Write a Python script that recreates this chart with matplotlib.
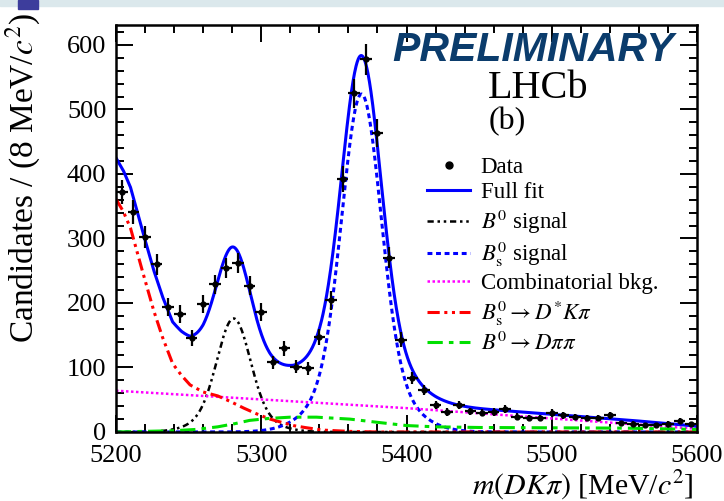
import numpy as np
import matplotlib
matplotlib.use("Agg")
import matplotlib.pyplot as plt
from matplotlib.lines import Line2D
from matplotlib.patches import Rectangle

plt.rcParams['font.family'] = ['Liberation Serif', 'DejaVu Serif']
plt.rcParams['mathtext.fontset'] = 'stix'

# data: 8 MeV bins from 5200 to 5600
bin_lo = 5200
bin_w = 8
counts = [372, 341, 302, 260, 194, 183, 146, 198, 229, 254,
          262, 227, 186, 108, 130, 101, 99, 147, 204, 392,
          525, 578, 463, 270, 143, 84, 65, 42, 31, 42,
          32, 30, 31, 36, 24, 22, 22, 30, 26, 23,
          22, 22, 26, 14, 13, 11, 11, 13, 17, 12]

# signal shapes (mean, height, core width, tail width, core fraction)
b0_mean, b0_height, b0_s1, b0_s2, b0_f = 5281.0, 176.0, 11.0, 20.0, 0.8
bs_mean, bs_height, bs_s1, bs_s2, bs_f = 5369.0, 524.0, 13.0, 25.0, 0.8

# background curves
comb_m = [5200, 5400, 5600]
comb_v = [64, 37, 5]

dstar_m = [5200, 5205, 5210, 5218, 5226, 5232, 5239, 5245, 5251, 5260, 5270,
           5279, 5288, 5297, 5306, 5314, 5322, 5330, 5342, 5360, 5380, 5600]
dstar_v = [361, 342, 316, 251, 188, 147, 106, 88, 73, 62, 56,
           47, 37, 28, 20, 15, 10, 7, 3, 1, 0, 0]

dpipi_m = [5200, 5240, 5255, 5270, 5282, 5292, 5305, 5320, 5338, 5361,
           5380, 5400, 5420, 5450, 5500, 5550, 5600]
dpipi_v = [0, 2, 4, 8, 13, 18, 21, 23, 23, 20,
           15, 10, 8, 7, 6.5, 6, 4]


def peak(m, mean, h, s1, s2, f):
    d = m - mean
    return h * (f * np.exp(-d**2 / (2 * s1**2)) + (1 - f) * np.exp(-d**2 / (2 * s2**2)))


counts = np.array(counts, dtype=float)
centers = bin_lo + bin_w / 2 + bin_w * np.arange(len(counts))

m = np.linspace(5200, 5600, 1601)
b0 = peak(m, b0_mean, b0_height, b0_s1, b0_s2, b0_f)
bs = peak(m, bs_mean, bs_height, bs_s1, bs_s2, bs_f)
full = (b0 + bs + np.interp(m, comb_m, comb_v) + np.interp(m, dstar_m, dstar_v)
        + np.interp(m, dpipi_m, dpipi_v))

fig = plt.figure(figsize=(7.24, 5.01), dpi=100)
ax = fig.add_axes([116 / 724, 1 - 432 / 501, 581 / 724, 407 / 501])

# slide header remnants
fig.patches.append(Rectangle((0, 1 - 6 / 501), 1, 6 / 501, transform=fig.transFigure,
                             color='#dbe8ec', zorder=0))
fig.patches.append(Rectangle((18 / 724, 1 - 9 / 501), 20 / 724, 9 / 501,
                             transform=fig.transFigure, color='#3d3d9c', zorder=1))

ax.plot(m, b0, color='black', lw=1.8, ls=(0, (2.5, 1.5, 1, 1.5, 1, 1.5)))
ax.plot(m, bs, color='#0000ff', lw=2.2, ls=(0, (1.6, 1.2)))
ax.plot(comb_m, comb_v, color='#ff00ff', lw=1.8, ls=(0, (1, 1)))
ax.plot(dstar_m, dstar_v, color='#ff0000', lw=2.2, ls=(0, (4, 1.5, 1, 1.5, 1, 1.5)))
ax.plot(dpipi_m, dpipi_v, color='#00e000', lw=2.2, ls=(0, (5, 2, 1.5, 2)))
ax.plot(m, full, color='#0000ff', lw=2.2)

ax.errorbar(centers, counts, yerr=np.sqrt(counts), xerr=bin_w / 2, fmt='o', color='black',
            ms=3.5, elinewidth=1.6, capsize=0, zorder=5)

ax.set_xlim(5200, 5600)
ax.set_ylim(0, 631)
ax.set_xticks([5200, 5300, 5400, 5500, 5600])
ax.set_xticks(np.arange(5200, 5601, 20), minor=True)
ax.set_yticks([0, 100, 200, 300, 400, 500, 600])
ax.set_yticks(np.arange(0, 631, 20), minor=True)
ax.tick_params(which='both', direction='in', top=True, right=True, width=1.4, labelsize=19)
ax.tick_params(which='major', length=12, pad=7)
ax.tick_params(axis='x', which='major', pad=9.5)
ax.tick_params(which='minor', length=6)
for s in ax.spines.values():
    s.set_linewidth(1.8)

ax.set_ylabel('Candidates / (8 MeV/$c^2$)', fontsize=24, ha='right', va='bottom')
ax.yaxis.set_label_coords(-0.126, 1.03)
ax.set_xlabel('$m(DK\\pi)$ [MeV/$c^2$]', fontsize=21.5, ha='right', va='top')
ax.xaxis.set_label_coords(0.995, -0.09)

handles = [
    Line2D([], [], color='black', marker='o', ms=5, ls='none'),
    Line2D([], [], color='#0000ff', lw=2.2),
    Line2D([], [], color='black', lw=1.8, ls=(0, (2.5, 1.5, 1, 1.5, 1, 1.5))),
    Line2D([], [], color='#0000ff', lw=2.2, ls=(0, (1.6, 1.2))),
    Line2D([], [], color='#ff00ff', lw=1.8, ls=(0, (1, 1))),
    Line2D([], [], color='#ff0000', lw=2.2, ls=(0, (4, 1.5, 1, 1.5, 1, 1.5))),
    Line2D([], [], color='#00e000', lw=2.2, ls=(0, (5, 2, 1.5, 2))),
]
labels = ['Data', 'Full fit', '$B^0$ signal', '$B^0_{\\rm s}$ signal', 'Combinatorial bkg.',
          '$B^0_{\\rm s}\\to D^{*}K\\pi$', '$B^0\\to D\\pi\\pi$']
ax.legend(handles, labels, loc='upper left', bbox_to_anchor=(0.535, 0.675), frameon=False,
          fontsize=16.5, handlelength=1.9, handletextpad=0.45, labelspacing=0.18,
          borderpad=0, borderaxespad=0)

ax.text(0.726, 0.843, 'LHCb', transform=ax.transAxes, fontsize=29, ha='center', va='center')
ax.text(0.673, 0.762, '(b)', transform=ax.transAxes, fontsize=23, ha='center', va='center')
fig.text(0.736, 0.900, 'PRELIMINARY', family='Liberation Sans', weight='bold', style='italic',
         fontsize=29.5, color='#0b3c6c', ha='center', va='center')

fig.savefig('out.png', dpi=100)
